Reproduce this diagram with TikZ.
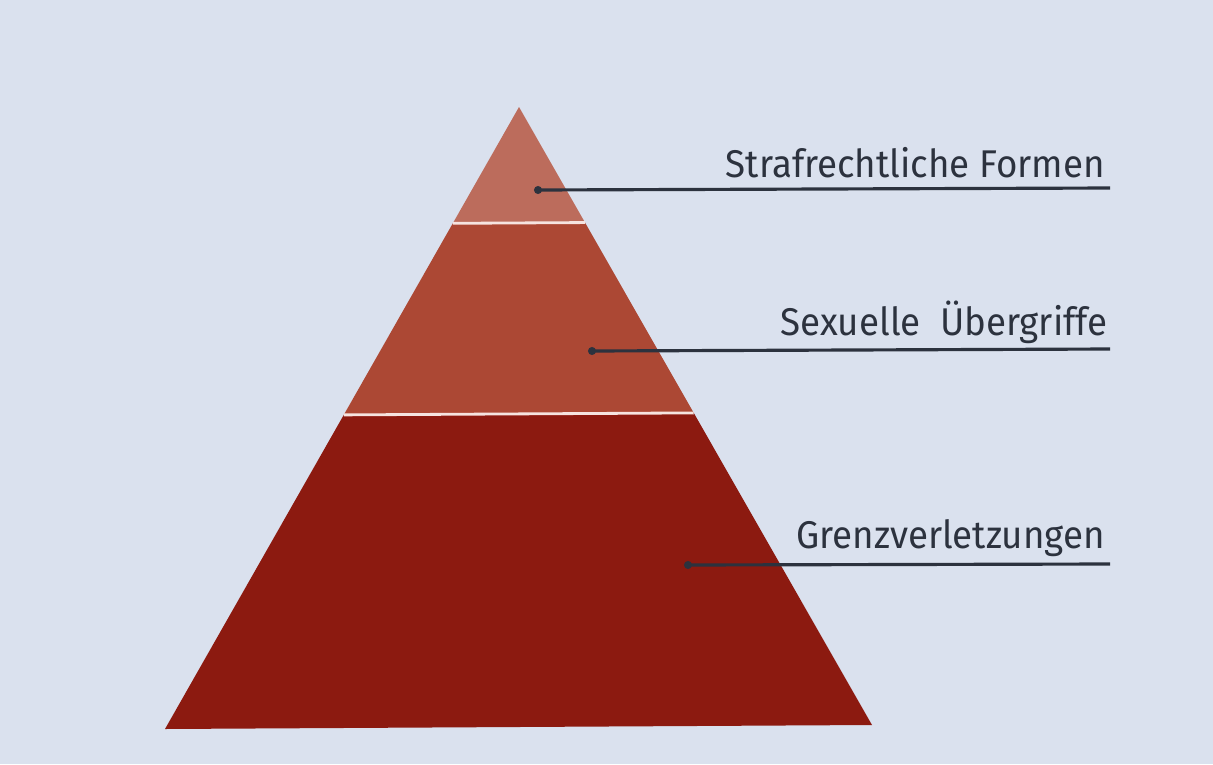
\documentclass[tikz,border=0pt]{standalone}
\usepackage{fontspec}
\setmainfont[FakeStretch=0.95]{Fira Sans}
\usetikzlibrary{calc}
\definecolor{bg}{RGB}{218, 225, 238}
\definecolor{top}{RGB}{188, 108, 92}
\definecolor{mid}{RGB}{172, 72, 52}
\definecolor{low}{RGB}{140, 26, 16}
\definecolor{ink}{RGB}{44, 50, 62}
\definecolor{gap}{RGB}{246, 228, 224}

\begin{document}
\begin{tikzpicture}[x=0.02cm, y=-0.02cm,
    label/.style={anchor=base east, font=\fontsize{22}{26}\selectfont, text=ink, inner sep=0pt},
    leader/.style={draw=ink, line width=1.8pt},
    pin/.style={fill=ink}]
  % background
  \fill[bg] (0,0) rectangle (1213,764);
  % pyramid corners
  \coordinate (apex) at (519,107);
  \coordinate (bl) at (165,729);
  \coordinate (br) at (872,725);
  \coordinate (l1) at ($(apex)!0.187!(bl)$);
  \coordinate (r1) at ($(apex)!0.187!(br)$);
  \coordinate (l2) at ($(apex)!0.495!(bl)$);
  \coordinate (r2) at ($(apex)!0.495!(br)$);
  % tiers
  \fill[top] (apex)--(r1)--(l1)--cycle;
  \fill[mid] (l1)--(r1)--(r2)--(l2)--cycle;
  \fill[low] (l2)--(r2)--(br)--(bl)--cycle;
  \draw[gap, line width=1.6pt] (l1)--(r1);
  \draw[gap, line width=1.6pt] (l2)--(r2);
  % labels
  \node[label] (straf) at (1105,177) {Strafrechtliche Formen};
  \node[label] (sex) at (1108,335) {Sexuelle\ \ Übergriffe};
  \node[label] (grenz) at (1105,548) {Grenzverletzungen};
  % leader lines
  \coordinate (d1) at (538,190);
  \coordinate (e1) at (1110,188);
  \coordinate (d2) at (592,351);
  \coordinate (e2) at (1110,349);
  \coordinate (d3) at (688,565);
  \coordinate (e3) at (1110,564);
  \draw[leader] (d1)--(e1);
  \draw[leader] (d2)--(e2);
  \draw[leader] (d3)--(e3);
  \fill[pin] (d1) circle (2.3pt);
  \fill[pin] (d2) circle (2.3pt);
  \fill[pin] (d3) circle (2.3pt);
\end{tikzpicture}
\end{document}
